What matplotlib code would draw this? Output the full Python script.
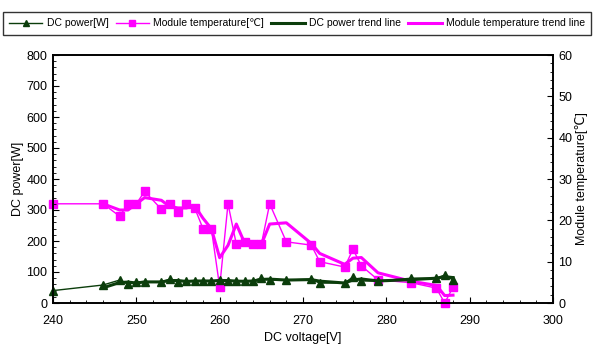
import numpy as np
import pandas as pd
import matplotlib
matplotlib.use("Agg")
from matplotlib import pyplot as plt
from matplotlib.ticker import MultipleLocator

plt.rcParams['font.family'] = ['Liberation Sans', 'DejaVu Sans']

# measured points
voltage = [240, 246, 248, 249, 250, 251, 253, 254, 255, 256, 257, 258, 259, 260, 261,
           262, 263, 264, 265, 266, 268, 271, 272, 275, 276, 277, 279, 283, 286, 287, 288]
dc_power = [40, 58, 74, 61, 68, 68, 68, 77, 68, 71, 71, 71, 71, 74, 71,
            70, 70, 72, 80, 74, 74, 77, 64, 65, 84, 71, 71, 80, 80, 90, 74]
module_temp = [24, 24, 21, 24, 24, 27, 22.7, 24, 22, 24, 23, 18, 18, 3.9, 24,
               14.2, 14.8, 14.2, 14.2, 24, 14.8, 14, 10, 8.7, 13, 9, 5.6, 4.9, 3.6, 0, 3.8]

GREEN = '#0b3d0b'
MAGENTA = '#ff00ff'

# 2-period moving average trend lines
power_trend = pd.Series(dc_power).rolling(2).mean()
temp_trend = pd.Series(module_temp).rolling(2).mean()

fig = plt.figure(figsize=(5.97, 3.47), dpi=100)
ax = fig.add_axes([53 / 597, 1 - 303 / 347, 500 / 597, 248 / 347])
ax2 = ax.twinx()

l1, = ax.plot(voltage, dc_power, '-', color=GREEN, lw=1, marker='^', ms=6,
              clip_on=False, label='DC power[W]')
l3, = ax.plot(voltage, power_trend, '-', color=GREEN, lw=2.2,
              label='DC power trend line')
l2, = ax2.plot(voltage, module_temp, '-', color=MAGENTA, lw=1, marker='s', ms=6,
               clip_on=False, label='Module temperature[\u2103]')
l4, = ax2.plot(voltage, temp_trend, '-', color=MAGENTA, lw=2.2,
               label='Module temperature trend line')

ax.set_zorder(ax2.get_zorder() + 1)
ax.patch.set_visible(False)

ax.set_xlim(240, 300)
ax.set_ylim(0, 800)
ax2.set_ylim(0, 60)
ax.xaxis.set_major_locator(MultipleLocator(10))
ax.xaxis.set_minor_locator(MultipleLocator(2))
ax.yaxis.set_major_locator(MultipleLocator(100))
ax.yaxis.set_minor_locator(MultipleLocator(20))
ax2.yaxis.set_major_locator(MultipleLocator(10))
ax2.yaxis.set_minor_locator(MultipleLocator(2))

for a in (ax, ax2):
    a.tick_params(which='both', direction='in', labelsize=9, pad=4)
    a.tick_params(which='major', length=4)
    a.tick_params(which='minor', length=2)
    for s in a.spines.values():
        s.set_linewidth(1.2)
ax.tick_params(top=False, which='both')
ax.tick_params(axis='x', pad=9)

ax.set_xlabel('DC voltage[V]', fontsize=9, labelpad=3)
ax.set_ylabel('DC power[W]', fontsize=9, labelpad=2)
ax2.set_ylabel('Module temperature[\u2103]', fontsize=9, labelpad=2)

leg = fig.legend([l1, l2, l3, l4], [l.get_label() for l in (l1, l2, l3, l4)],
                 loc='upper center', bbox_to_anchor=(297 / 597, 1 - 7 / 347), ncol=4,
                 fontsize=7.5, fancybox=False, edgecolor='black', handlelength=3.2,
                 columnspacing=0.7, handletextpad=0.4, borderpad=0.6, markerscale=0.8)
leg.get_frame().set_linewidth(1.0)

fig.savefig('out.png', dpi=100)
